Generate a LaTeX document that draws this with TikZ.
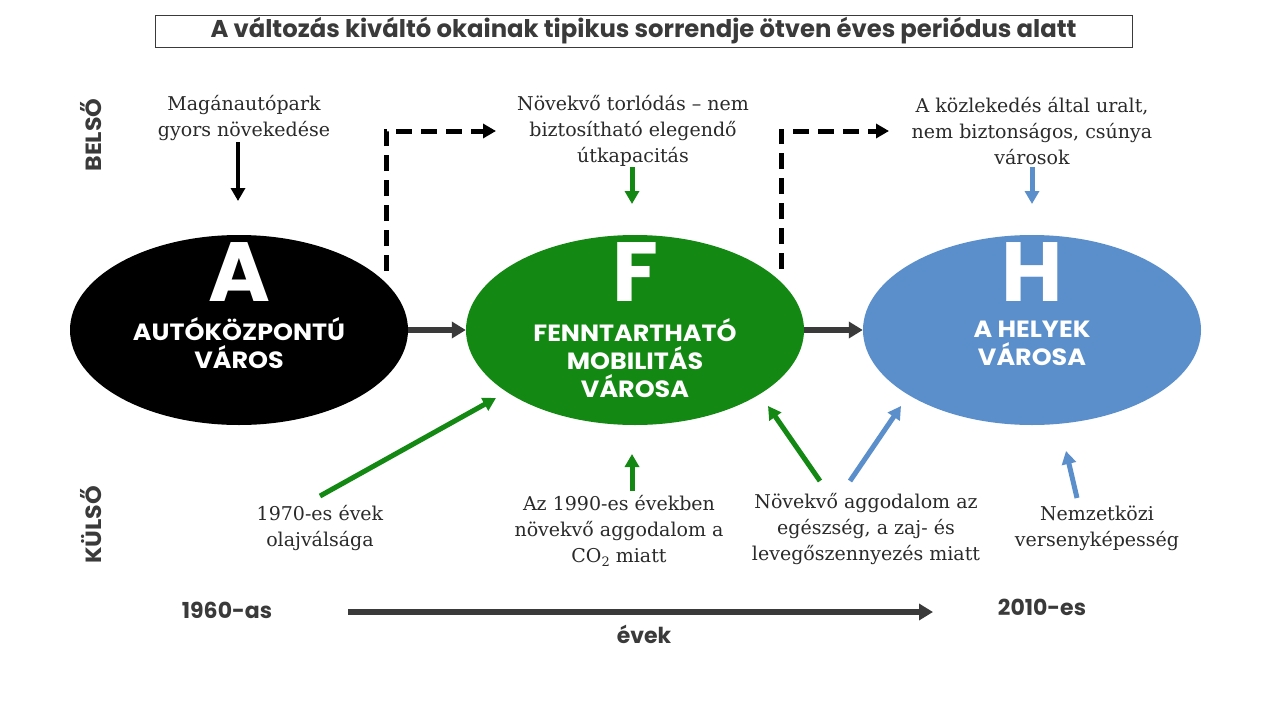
\documentclass[tikz,border=0pt]{standalone}
\usepackage{fontspec}
\usetikzlibrary{arrows.meta,shapes.geometric}
\newfontfamily\pop{Poppins}
\newfontfamily\popw{Poppins}[FakeStretch=1.08]
\newfontfamily\serf{DejaVu Serif}
\definecolor{dark}{HTML}{3A3A3A}
\definecolor{grn}{HTML}{138813}
\definecolor{blu}{HTML}{5B8FCB}
\definecolor{txt}{HTML}{2A2A2A}
\begin{document}
\begin{tikzpicture}[x=1pt,y=-1pt,
  ell/.style={ellipse, minimum width=338pt, minimum height=190pt, inner sep=0},
  big/.style={font=\pop\bfseries\fontsize{84}{84}\selectfont, text=white, inner sep=0, text height=59pt, text depth=0pt, anchor=south},
  lab/.style={font=\popw\bfseries\fontsize{23.5}{28}\selectfont, text=white, align=center, inner sep=0},
  ser/.style={font=\serf\fontsize{19}{26}\selectfont, align=center, text=txt, inner sep=0},
  side/.style={font=\popw\bfseries\fontsize{22}{24}\selectfont, text=dark, inner sep=0},
  yr/.style={font=\pop\bfseries\fontsize{22}{24}\selectfont, text=dark, inner sep=0},
  tip/.style={-{Triangle[length=13pt,width=14pt]}},
  blk/.style={tip, line width=4pt, black},
  gar/.style={tip, line width=5pt, grn},
  bar/.style={tip, line width=5pt, blu},
  dsh/.style={-{Triangle[length=13pt,width=14pt]}, line width=5pt, black, dash pattern=on 16pt off 9pt},
  hor/.style={-{Triangle[length=14pt,width=16pt]}, line width=6pt, dark}]
\useasboundingbox (0,0) rectangle (1280,720);
\fill[white] (0,0) rectangle (1280,720);
% title
\node[draw=dark, line width=1pt, minimum width=977pt, minimum height=32pt, inner sep=0,
  font=\pop\bfseries\fontsize{24.3}{26}\selectfont, text=dark] (title) at (643.5,31)
  {A változás kiváltó okainak tipikus sorrendje ötven éves periódus alatt};
% side labels
\node[side, rotate=90] (belso) at (91,135) {BELSŐ};
\node[side, rotate=90] (kulso) at (91,525) {KÜLSŐ};
% ellipses
\node[ell, fill=black] (A) at (239,330) {};
\node[ell, fill=grn] (F) at (635,330) {};
\node[ell, fill=blu] (H) at (1032,330) {};
\node[big] (Al) at (239,302) {A};
\node[big] (Fl) at (635,302) {F};
\node[big] (Hl) at (1032,302) {H};
\node[lab] (At) at (239,343) {AUTÓKÖZPONTÚ\\VÁROS};
\node[lab] (Ft) at (635,358) {FENNTARTHATÓ\\MOBILITÁS\\VÁROSA};
\node[lab] (Ht) at (1032,343) {A HELYEK\\VÁROSA};
% top texts
\node[ser] (t1) at (244,118) {Magánautópark\\gyors növekedése};
\node[ser] (t2) at (633,131) {Növekvő torlódás – nem\\biztosítható elegendő\\útkapacitás};
\node[ser] (t3) at (1032,131) {A közlekedés által uralt,\\nem biztonságos, csúnya\\városok};
% bottom texts
\node[ser] (b1) at (320,528) {1970-es évek\\olajválsága};
\node[ser] (b2) at (619,531) {Az 1990-es években\\növekvő aggodalom a\\CO\raisebox{-0.25em}{\fontsize{13}{13}\selectfont 2} miatt};
\node[ser] (b3) at (866,529) {Növekvő aggodalom az\\egészség, a zaj- és\\levegőszennyezés miatt};
\node[ser] (b4) at (1097,528) {Nemzetközi\\versenyképesség};
% timeline labels
\node[yr] (y1) at (227,610) {1960-as};
\node[yr] (y2) at (1042,607) {2010-es};
\node[yr] (ev) at (644,634) {évek};
% coordinates
\coordinate (a1s) at (238,142); \coordinate (a1e) at (238,201);
\coordinate (d1s) at (386,271); \coordinate (d1c) at (386,131); \coordinate (d1e) at (496,131);
\coordinate (d2s) at (781,269); \coordinate (d2c) at (781,131); \coordinate (d2e) at (889,131);
\coordinate (g1s) at (632,167); \coordinate (g1e) at (632,204);
\coordinate (u1s) at (1032,167); \coordinate (u1e) at (1032,204);
\coordinate (g2s) at (320,496); \coordinate (g2e) at (496,398);
\coordinate (g3s) at (632,491); \coordinate (g3e) at (632,454);
\coordinate (g4s) at (820,481); \coordinate (g4e) at (768,406);
\coordinate (u2s) at (850,481); \coordinate (u2e) at (901,406);
\coordinate (u3s) at (1077,498); \coordinate (u3e) at (1066,451);
\coordinate (ts) at (348,612); \coordinate (te) at (933,612);
% connectors
\draw[blk] (a1s) -- (a1e);
\draw[dsh] (d1s) -- (d1c) -- (d1e);
\draw[dsh] (d2s) -- (d2c) -- (d2e);
\draw[gar] (g1s) -- (g1e);
\draw[bar] (u1s) -- (u1e);
\draw[hor] (A.east) -- (F.west);
\draw[hor] (F.east) -- (H.west);
\draw[gar] (g2s) -- (g2e);
\draw[gar] (g3s) -- (g3e);
\draw[gar] (g4s) -- (g4e);
\draw[bar] (u2s) -- (u2e);
\draw[bar] (u3s) -- (u3e);
\draw[hor] (ts) -- (te);
\end{tikzpicture}
\end{document}
